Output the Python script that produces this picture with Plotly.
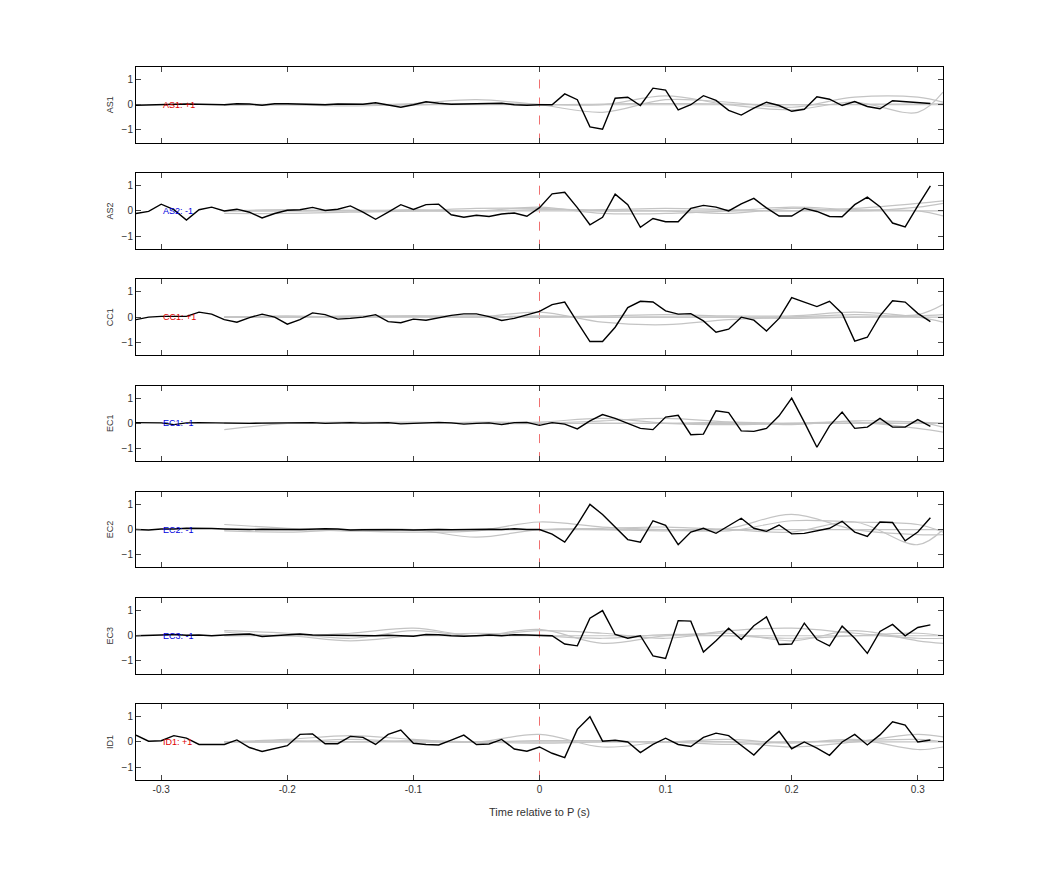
import plotly.graph_objects as go

t = [round(-0.32 + 0.01 * i, 2) for i in range(64)]
tg = [-0.25, -0.2, -0.15, -0.1, -0.05, 0.0, 0.05, 0.1, 0.15, 0.2, 0.25, 0.3, 0.32]

stations = ["AS1", "AS2", "CC1", "EC1", "EC2", "EC3", "ID1"]
polarity = ["+1", "-1", "+1", "-1", "-1", "-1", "+1"]

AS1 = [-0.02,0,0.02,0.03,0.03,0.02,0.02,0.0,0.04,0.03,-0.02,0.04,0.04,0.02,0.02,0.0,0.03,0.02,0.02,0.08,0.0,-0.1,0.0,0.12,0.06,0.02,0.03,0.04,0.05,0.06,0.0,-0.02,
       0,0,0.43,0.2,-0.88,-0.97,0.26,0.3,-0.03,0.66,0.58,-0.2,0,0.36,0.17,-0.22,-0.41,-0.13,0.1,-0.03,-0.26,-0.18,0.32,0.22,-0.03,0.13,-0.07,-0.16,0.16,0.13,0.1,0.05]
AS2 = [-0.1,-0.02,0.27,0.05,-0.36,0.05,0.15,0.0,0.07,-0.05,-0.28,-0.1,0.03,0.05,0.14,0.02,0.07,0.2,-0.05,-0.33,-0.05,0.25,0.06,0.25,0.27,-0.15,-0.25,-0.17,-0.22,-0.12,-0.08,-0.21,
       0.13,0.68,0.74,0.13,-0.55,-0.25,0.67,0.25,-0.65,-0.3,-0.43,-0.43,0.1,0.22,0.15,0.0,0.28,0.5,0.12,-0.2,-0.2,0.1,-0.02,-0.22,-0.23,0.25,0.55,0.17,-0.48,-0.63,0.2,1.0]
CC1 = [-0.1,0.0,0.03,0.02,0.03,0.2,0.12,-0.1,-0.2,-0.02,0.12,0.0,-0.28,-0.1,0.17,0.1,-0.08,-0.05,0.0,0.1,-0.18,-0.22,-0.08,-0.12,-0.02,0.07,0.13,0.13,0.02,-0.13,-0.05,0.1,
       0.23,0.5,0.6,-0.2,-0.97,-0.97,-0.4,0.38,0.63,0.6,0.25,0.12,0.14,-0.15,-0.6,-0.48,0.0,-0.12,-0.55,-0.05,0.78,0.6,0.42,0.63,0.15,-0.95,-0.8,0.05,0.65,0.6,0.15,-0.18]
EC1 = [0.03,0.03,0.02,-0.05,0.02,0.03,0.02,0.02,0.0,0.0,0.01,0.02,0.02,0.01,0.03,0.0,0.02,0.03,0.01,0.02,0.03,-0.02,0.0,0.03,0.04,0.02,-0.03,0.0,0.02,-0.05,0.03,0.04,
       -0.08,0.03,-0.03,-0.22,0.1,0.35,0.2,0.0,-0.2,-0.25,0.25,0.32,-0.45,-0.43,0.5,0.43,-0.3,-0.32,-0.2,0.3,1.0,0.05,-0.95,-0.1,0.45,-0.2,-0.15,0.2,-0.15,-0.15,0.15,-0.12]
EC2 = [0.0,-0.02,0.02,0.02,0.05,0.05,0.04,0.02,0.0,0.0,0.01,0.02,0.0,0.0,0.02,0.03,0.02,-0.02,-0.01,0.0,0.0,-0.01,-0.02,0.0,0.0,-0.01,0.0,0.02,0.01,0.0,0.03,0.0,
       0.0,-0.18,-0.5,0.2,1.0,0.6,0.1,-0.4,-0.5,0.35,0.17,-0.6,-0.1,0.05,-0.15,0.15,0.45,0.05,-0.07,0.18,-0.17,-0.15,-0.05,0.05,0.33,-0.1,-0.27,0.3,0.28,-0.45,-0.1,0.47]
EC3 = [0.0,0.0,0.03,0.05,0.02,0.03,0.0,0.03,0.05,0.07,-0.03,0.0,0.05,0.07,0.03,0.02,0.0,0.0,0.01,0.0,0.02,0.0,-0.02,0.05,0.04,0.0,-0.02,0.0,0.03,0.0,0.04,0.03,
       0.02,0.0,-0.33,-0.4,0.7,1.0,0.05,-0.1,0.0,-0.8,-0.9,0.6,0.58,-0.65,-0.2,0.3,-0.15,0.4,0.75,-0.35,-0.33,0.5,-0.15,-0.4,0.38,-0.1,-0.7,0.17,0.45,0.0,0.33,0.43]
ID1 = [0.27,0.03,0.05,0.25,0.15,-0.1,-0.1,-0.1,0.08,-0.22,-0.38,-0.25,-0.15,0.3,0.32,-0.07,-0.07,0.22,0.18,-0.1,0.3,0.47,-0.05,-0.1,-0.12,0.07,0.27,-0.1,-0.08,0.1,-0.28,-0.37,
       -0.2,-0.45,-0.62,0.5,1.0,0.03,0.07,0.0,-0.42,-0.1,0.15,-0.1,-0.18,0.18,0.35,0.25,-0.15,-0.52,0.0,0.42,-0.27,0.0,-0.25,-0.53,0.0,0.3,-0.12,0.28,0.8,0.67,0.0,0.08]
black = [AS1, AS2, CC1, EC1, EC2, EC3, ID1]

gray = [
    [[0,0,-0.05,0,0.05,0.0,0.03,0.05,0.03,0.0,0.02,0.03,0.05],
     [0,0.03,0.0,0.05,0.2,0.0,-0.3,0.2,0.1,-0.1,0.3,0.3,0.1],
     [-0.02,0,0.03,0.0,0.05,0.02,0.0,0.35,0.0,-0.2,0.1,-0.3,0.5],
     [0,0,0,0,0,0,0,0,0,0,0,0,0]],
    [[-0.1,-0.1,-0.05,0.0,0.1,0.1,0.0,0.0,-0.1,0.1,0.0,0.15,0.3],
     [0,0.05,0.0,0.05,0.0,0.15,-0.1,-0.1,0.0,0.15,0.05,0.0,-0.2],
     [0,0,0.03,0.0,0.0,0.05,0.05,0.1,0.05,0.0,0.1,0.3,0.4],
     [0,0,0,0,0,0,0,0,0,0,0,0,0]],
    [[0,0,0.05,0.05,0.0,0.2,-0.2,-0.3,-0.1,0.0,0.1,0.1,0.5],
     [0,0.05,0.0,0.05,0.05,0.0,0.05,0.1,0.05,0.05,0.2,0.0,-0.2],
     [0,0,0,0.02,0.0,0.05,0.0,0.0,0.0,-0.05,0.0,0.05,0.1],
     [0,0,0,0,0,0,0,0,0,0,0,0,0]],
    [[-0.25,0.0,0.05,0.0,0.05,0.05,0.2,0.0,-0.05,0.0,0.05,-0.2,-0.35],
     [0,0.0,0.03,0.05,0.0,0.0,0.1,0.2,0.05,-0.05,0.1,0.05,0.0],
     [0,0,0,0,0.02,0.0,0.0,0.0,0.05,0.0,0.0,0.05,-0.15],
     [0,0,0,0,0,0,0,0,0,0,0,0,0]],
    [[0.2,0.05,-0.05,-0.1,-0.05,0.3,0.1,0.0,-0.05,0.35,0.3,0.2,-0.1],
     [-0.05,-0.1,0.0,0.0,-0.3,0.0,0.05,0.1,0.0,-0.1,0.3,-0.6,0.0],
     [0,0,-0.05,0.0,0.0,0.0,0.0,-0.05,0.05,0.6,0.0,-0.2,-0.2],
     [0,0,0,0,0,0,0,0,0,0,0,0,0]],
    [[0.2,0.1,-0.1,0.2,0.0,0.2,0.1,-0.1,0.2,0.3,0.1,-0.1,-0.1],
     [0.15,0.0,0.1,0.3,0.0,0.25,-0.3,0.0,0.1,-0.2,0.2,-0.2,-0.3],
     [0,0,-0.2,0.0,0.1,0.0,-0.1,0.05,0.0,-0.1,0.0,0.1,0.0],
     [0,0,0,0,0,0,0,0,0,0,0,0,0]],
    [[0,0.1,0.25,0.1,0.0,0.3,-0.2,0.0,0.0,-0.2,0.0,0.3,0.2],
     [0,0.0,0.1,0.0,0.0,0.05,0.05,0.0,0.1,-0.05,0.1,-0.3,-0.2],
     [0,0.05,0.0,0.05,0.0,-0.05,0.0,0.0,-0.1,0.0,0.05,0.1,0.0],
     [0,0,0,0,0,0,0,0,0,0,0,0,0]],
]

W, H = 1042, 875
OX, OY = 8, 7
fig = go.Figure()
layout = dict(width=W, height=H, paper_bgcolor="white", plot_bgcolor="white",
              margin=dict(l=0, r=0, t=0, b=0), showlegend=False,
              font=dict(family="Liberation Sans, Arial", size=10, color="#333"))
shapes, annotations = [], []
for i, name in enumerate(stations):
    top = 66 + i * 106.2 - OY
    bot = top + 75.5
    ax = "" if i == 0 else str(i + 1)
    xa, ya = "x" + ax, "y" + ax
    for g in gray[i]:
        fig.add_trace(go.Scatter(x=tg, y=g, mode="lines", xaxis=xa, yaxis=ya,
                                 line=dict(color="#c4c4c4", width=1.2, shape="spline")))
    fig.add_trace(go.Scatter(x=t, y=black[i], mode="lines", xaxis=xa, yaxis=ya,
                             line=dict(color="black", width=1.4)))
    layout["xaxis" + ax] = dict(domain=[(136 - OX) / W, (943 - OX) / W], range=[-0.32, 0.32], anchor=ya,
                               tickvals=[-0.3, -0.2, -0.1, 0, 0.1, 0.2, 0.3],
                               ticktext=["-0.3", "-0.2", "-0.1", "0", "0.1", "0.2", "0.3"],
                               showticklabels=(i == 6), ticks="inside", ticklen=5,
                               showline=True, linecolor="black", linewidth=1, mirror="ticks",
                               showgrid=False, zeroline=False, tickfont=dict(size=10))
    layout["yaxis" + ax] = dict(domain=[1 - bot / H, 1 - top / H], range=[-1.5, 1.5], anchor=xa,
                               tickvals=[-1, 0, 1], ticks="inside", ticklen=5,
                               showline=True, linecolor="black", linewidth=1, mirror="ticks",
                               showgrid=False, zeroline=False, tickfont=dict(size=10),
                               title=dict(text=name, font=dict(size=9), standoff=6))
    shapes.append(dict(type="line", xref=xa, yref=ya + " domain", x0=0, x1=0, y0=0, y1=1,
                       line=dict(color="#f07070", width=1, dash="dash"), layer="below"))
    annotations.append(dict(x=-0.3, y=0, xref=xa, yref=ya, xanchor="left", showarrow=False,
                            text=f"{name}: {polarity[i]}",
                            font=dict(size=9, color="#e00000" if polarity[i] == "+1" else "#0000dd")))
layout["xaxis7"]["title"] = dict(text="Time relative to P (s)", font=dict(size=11), standoff=14)
layout["shapes"] = shapes
layout["annotations"] = annotations
fig.update_layout(**layout)
fig.write_html("out.html")
